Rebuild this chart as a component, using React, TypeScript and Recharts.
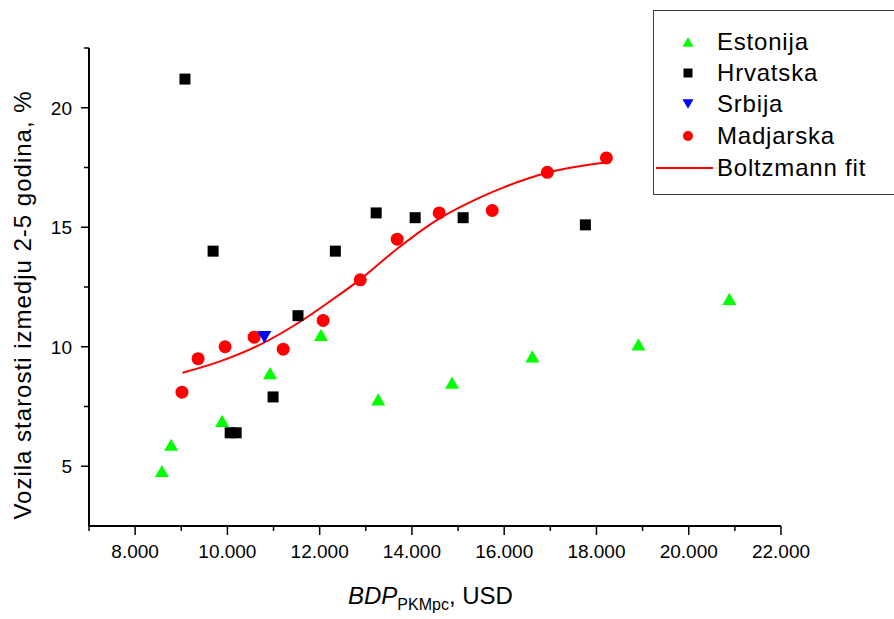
import React from 'react';
import { ComposedChart, Scatter, Line, XAxis, YAxis } from 'recharts';

// Estonija (green triangles)
const estonijaX = [8580, 8780, 9885, 10925, 12030, 13270, 14870, 16610, 18910, 20880];
const estonijaY = [4.8, 5.9, 6.9, 8.9, 10.5, 7.8, 8.5, 9.6, 10.1, 12.0];

// Hrvatska (black squares)
const hrvatskaX = [9080, 9690, 10060, 10190, 10990, 11530, 12340, 13225, 14070, 15110, 17760];
const hrvatskaY = [21.2, 14.0, 6.4, 6.4, 7.9, 11.3, 14.0, 15.6, 15.4, 15.4, 15.1];

// Srbija (blue down triangle)
const srbijaX = [10800];
const srbijaY = [10.4];

// Madjarska (red circles)
const madjarskaX = [9015, 9365, 9950, 10580, 11210, 12075, 12880, 13680, 14590, 15740, 16935, 18215];
const madjarskaY = [8.1, 9.5, 10.0, 10.4, 9.9, 11.1, 12.8, 14.5, 15.6, 15.7, 17.3, 17.9];

// Boltzmann fit
const fitX = [9025, 9840, 10710, 11650, 12230, 12880, 13680, 14540, 15480, 15990, 16950, 18190];
const fitY = [8.91, 9.39, 10.09, 11.14, 11.91, 12.82, 14.1, 15.3, 16.25, 16.67, 17.29, 17.71];

const xTicks = [7000, 8000, 9000, 10000, 11000, 12000, 13000, 14000, 15000, 16000, 17000, 18000, 19000, 20000, 21000, 22000];
const yTicks = [5, 7.5, 10, 12.5, 15, 17.5, 20, 22.5];

const toPoints = (xs: number[], ys: number[]) => xs.map((x, i) => ({ x, y: ys[i] }));

const estonija = toPoints(estonijaX, estonijaY);
const hrvatska = toPoints(hrvatskaX, hrvatskaY);
const srbija = toPoints(srbijaX, srbijaY);
const madjarska = toPoints(madjarskaX, madjarskaY);
const fit = toPoints(fitX, fitY);

const FONT = '"Liberation Sans", Arial, sans-serif';

const TriUp = (props: any) => {
  const { cx, cy, fill, s = 14 } = props;
  const h = s * 0.87;
  return <polygon points={`${cx - s / 2},${cy + h / 2} ${cx + s / 2},${cy + h / 2} ${cx},${cy - h / 2}`} fill={fill} />;
};
const TriDown = (props: any) => {
  const { cx, cy, fill, s = 14 } = props;
  const h = s * 0.87;
  return <polygon points={`${cx - s / 2},${cy - h / 2} ${cx + s / 2},${cy - h / 2} ${cx},${cy + h / 2}`} fill={fill} />;
};
const Square = (props: any) => {
  const { cx, cy, fill, s = 11 } = props;
  return <rect x={cx - s / 2} y={cy - s / 2} width={s} height={s} fill={fill} />;
};
const Dot = (props: any) => {
  const { cx, cy, fill, s = 13 } = props;
  return <circle cx={cx} cy={cy} r={s / 2} fill={fill} />;
};

const fmtX = (v: number) => `${v / 1000}.000`;

const XTick = (props: any) => {
  const { x, y, payload } = props;
  const v = payload.value;
  const major = v % 2000 === 0;
  return (
    <g>
      <line x1={x} y1={y} x2={x} y2={y + (major ? 9 : 5)} stroke="#000" strokeWidth={1.5} />
      {major && (
        <text x={x} y={y + 32} textAnchor="middle" fontSize={19} fill="#000" fontFamily={FONT}>
          {fmtX(v)}
        </text>
      )}
    </g>
  );
};

const YTick = (props: any) => {
  const { x, y, payload } = props;
  const v = payload.value;
  const major = v % 5 === 0;
  return (
    <g>
      <line x1={x} y1={y} x2={x - (major ? 8 : 5)} y2={y} stroke="#000" strokeWidth={1.5} />
      {major && (
        <text x={x - 17} y={y + 7} textAnchor="end" fontSize={19} fill="#000" fontFamily={FONT}>
          {v}
        </text>
      )}
    </g>
  );
};

const XLabel = (props: any) => {
  const vb = props.viewBox || { x: 89, y: 526, width: 692 };
  const cx = vb.x + vb.width / 2;
  return (
    <text x={cx - 87} y={vb.y + 78} fontSize={24} fill="#000" fontFamily={FONT}>
      <tspan fontStyle="italic">BDP</tspan>
      <tspan fontSize={16} dy={6}>PKMpc</tspan>
      <tspan dy={-6}>, USD</tspan>
    </text>
  );
};

const YLabel = () => (
  <text
    x={31}
    y={305}
    transform="rotate(-90, 31, 305)"
    textAnchor="middle"
    fontSize={24}
    letterSpacing={1}
    fill="#000"
    fontFamily={FONT}
  >
    Vozila starosti izmedju 2-5 godina, %
  </text>
);

const legendItems = [
  { name: 'Estonija', kind: 'triUp', color: '#00ff00' },
  { name: 'Hrvatska', kind: 'square', color: '#000000' },
  { name: 'Srbija', kind: 'triDown', color: '#0000ff' },
  { name: 'Madjarska', kind: 'dot', color: '#ff0000' },
  { name: 'Boltzmann fit', kind: 'line', color: '#ff0000' },
];
const legendRows = [31, 62, 93, 125, 157];

const LegendBox = () => (
  <div
    style={{
      position: 'absolute',
      left: 653,
      top: 10,
      width: 241,
      height: 185,
      border: '1.5px solid #3a3a3a',
      borderRight: 'none',
      boxSizing: 'border-box',
      background: '#fff',
      fontFamily: FONT,
    }}
  >
    {legendItems.map((it, i) => (
      <div key={it.name} style={{ position: 'absolute', left: 0, top: legendRows[i] - 16, height: 32, width: 241 }}>
        <svg width={62} height={32} style={{ position: 'absolute', left: 0, top: 0 }}>
          {it.kind === 'triUp' && <TriUp cx={34} cy={16} fill={it.color} s={11} />}
          {it.kind === 'square' && <Square cx={34} cy={16} fill={it.color} s={9} />}
          {it.kind === 'triDown' && <TriDown cx={34} cy={16} fill={it.color} s={11} />}
          {it.kind === 'dot' && <Dot cx={34} cy={16} fill={it.color} s={10} />}
          {it.kind === 'line' && <line x1={2} y1={16} x2={59} y2={16} stroke={it.color} strokeWidth={2} />}
        </svg>
        <span
          style={{
            position: 'absolute',
            left: 63,
            top: 0,
            lineHeight: '32px',
            fontSize: 24,
            letterSpacing: 0.8,
            color: '#000',
            whiteSpace: 'nowrap',
          }}
        >
          {it.name}
        </span>
      </div>
    ))}
  </div>
);

export default function App() {
  return (
    <div style={{ position: 'absolute', left: 0, top: 0, width: 894, height: 619, background: '#fff' }}>
      <ComposedChart width={894} height={619} margin={{ top: 48, right: 113, bottom: 0, left: 0 }}>
        <XAxis
          type="number"
          dataKey="x"
          domain={[7000, 22000]}
          ticks={xTicks}
          interval={0}
          allowDataOverflow
          height={93}
          tickSize={0}
          tickMargin={0}
          tickLine={false}
          tick={<XTick />}
          axisLine={{ stroke: '#000', strokeWidth: 2 }}
          label={<XLabel />}
        />
        <YAxis
          type="number"
          dataKey="y"
          domain={[2.5, 22.5]}
          ticks={yTicks}
          interval={0}
          allowDataOverflow
          width={89}
          tickSize={0}
          tickMargin={0}
          tickLine={false}
          tick={<YTick />}
          axisLine={{ stroke: '#000', strokeWidth: 2 }}
        />
        <Line
          data={fit}
          dataKey="y"
          type="monotone"
          stroke="#ff0000"
          strokeWidth={2}
          dot={false}
          activeDot={false}
          isAnimationActive={false}
          name="Boltzmann fit"
        />
        <Scatter data={estonija} dataKey="y" fill="#00ff00" shape={<TriUp />} isAnimationActive={false} name="Estonija" />
        <Scatter data={hrvatska} dataKey="y" fill="#000000" shape={<Square />} isAnimationActive={false} name="Hrvatska" />
        <Scatter data={madjarska} dataKey="y" fill="#ff0000" shape={<Dot />} isAnimationActive={false} name="Madjarska" />
        <Scatter data={srbija} dataKey="y" fill="#0000ff" shape={<TriDown />} isAnimationActive={false} name="Srbija" />
      </ComposedChart>
      <svg width={60} height={619} style={{ position: 'absolute', left: 0, top: 0 }}>
        <YLabel />
      </svg>
      <LegendBox />
    </div>
  );
}
